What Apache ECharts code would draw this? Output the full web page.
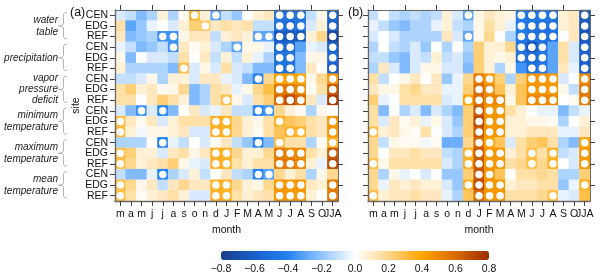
<!DOCTYPE html>
<html><head><meta charset="utf-8">
<script src="https://cdn.jsdelivr.net/npm/echarts@6/dist/echarts.min.js"></script>
<style>html,body{margin:0;padding:0;background:#fff}#c{width:600px;height:279px}</style>
</head><body><div id="c"></div><script>
const months = ['m','a','m','j','j','a','s','o','n','d','J','F','M','A','M','J','J','A','S','O','JJA'];
const sites = ['CEN','EDG','REF'];
const groupLabels = [['water','table'],['precipitation'],['vapor','pressure','deficit'],['minimum','temperature'],['maximum','temperature'],['mean','temperature']];

// panel (a) correlations, rows CEN, EDG, REF
const aWaterTable = [
 [-0.07,-0.11,-0.23,-0.15,0.07,-0.15,0.02,0.35,0.07,-0.3,-0.11,-0.19,0,0.07,0.11,-0.5,-0.5,-0.5,-0.11,0.04,-0.6],
 [0.15,-0.3,-0.19,-0.04,0,-0.07,0.07,0.23,0.25,0.11,0.15,0.11,0.15,-0.11,-0.11,-0.5,-0.55,-0.5,-0.07,0.07,-0.6],
 [0.11,-0.23,-0.19,-0.15,-0.35,-0.35,0.04,0.11,0.11,-0.11,0.07,0.11,0.07,-0.3,-0.3,-0.65,-0.65,-0.65,0.07,0.19,-0.75]];
const aPrecip = [
 [-0.04,-0.11,-0.23,-0.19,-0.11,-0.35,0.11,0.02,0.07,-0.07,-0.15,-0.3,0.04,0.04,-0.04,-0.55,-0.55,-0.3,-0.04,-0.07,-0.6],
 [0.04,-0.23,0,-0.07,-0.07,-0.11,0.15,0,0.11,-0.11,0.07,-0.11,0.07,-0.04,-0.15,-0.5,-0.5,-0.23,0.04,0.04,-0.55],
 [0.07,-0.15,-0.15,-0.15,-0.15,-0.23,0.3,-0.07,0.04,-0.07,0.15,-0.07,-0.11,-0.23,-0.23,-0.5,-0.5,-0.23,0.11,0,-0.6]];
const aVPD = [
 [-0.11,-0.11,-0.07,0.04,-0.15,0.07,0.07,-0.07,0.11,0.11,-0.04,-0.07,-0.23,-0.4,0.19,0.4,0.4,0.4,0.04,0.19,0.45],
 [0.15,0.23,0.07,0.11,0.02,0.04,0.19,-0.23,-0.15,0.15,0.11,-0.04,0.04,0.19,0.3,0.55,0.55,0.5,0.02,0.15,0.65],
 [0.15,0.15,0,0.11,0.23,0.15,0.07,-0.23,-0.15,0.15,0.3,0.04,-0.07,0.15,0.23,0.6,0.7,0.6,0.11,-0.07,0.75]];
const aTmin = [
 [-0.07,-0.23,-0.35,-0.07,-0.4,-0.23,0,0.11,-0.07,-0.04,0.11,-0.11,-0.11,-0.4,-0.35,0.19,0.07,0.02,-0.15,0.04,0],
 [0.3,0.11,0.02,0.11,-0.07,0.07,0.15,0.15,0.15,0.35,0.35,0.19,0.07,0.04,0.15,0.35,0.27,0.23,0.15,0.11,0.45],
 [0.3,0.07,-0.02,0.04,0.04,0.07,0.11,-0.07,-0.07,0.35,0.35,0.19,0.07,0.02,0.15,0.27,0.35,0.35,0.15,0.11,0.45]];
const aTmax = [
 [-0.15,-0.15,-0.15,0,-0.4,-0.04,-0.11,0,-0.07,0.02,0.11,-0.11,-0.19,-0.4,-0.23,0.3,0.15,0.15,-0.15,0.02,0.35],
 [0.3,0.23,0.07,0.07,-0.07,0.11,0.15,0.04,0.11,0.35,0.35,0.19,0.07,0.07,0.19,0.55,0.5,0.5,0.15,0.07,0.65],
 [0.3,0.19,0.07,0.11,0.15,0.23,0.04,-0.04,-0.07,0.35,0.35,0.15,0.07,0.15,0.15,0.55,0.55,0.5,0.07,-0.04,0.7]];
const aTmean = [
 [-0.11,-0.23,-0.23,-0.04,-0.4,-0.15,-0.07,0.07,-0.11,0,0.11,-0.11,-0.15,-0.4,-0.3,0.19,0.07,0.15,-0.15,0.04,0.19],
 [0.3,0.19,0.04,0.11,-0.11,0.11,0.19,0.11,0.11,0.35,0.35,0.19,0.07,0.04,0.19,0.45,0.45,0.45,0.11,0.07,0.55],
 [0.3,0.15,0.02,0.07,0.11,0.15,0.07,-0.07,-0.07,0.35,0.35,0.15,0.07,0.11,0.15,0.45,0.45,0.45,0.07,0,0.55]];

// panel (b)
const bWaterTable = [
 [-0.11,0,-0.11,-0.15,-0.11,-0.15,-0.11,0.07,-0.07,-0.3,0.04,0.11,0.07,0.04,-0.45,-0.5,-0.45,-0.5,0.07,0.11,-0.65],
 [-0.04,-0.11,-0.19,-0.23,-0.15,-0.15,-0.04,0.07,-0.11,-0.15,0.04,0.15,0.07,-0.04,-0.45,-0.5,-0.5,-0.5,0.07,0.11,-0.65],
 [-0.07,0,-0.07,-0.15,-0.15,-0.15,-0.15,0.11,-0.07,-0.3,0.04,0.19,0,-0.15,-0.45,-0.5,-0.5,-0.5,0,0.11,-0.65]];
const bPrecip = [
 [-0.15,0,-0.11,-0.15,-0.07,-0.19,0,-0.15,0,-0.15,0.23,0.07,0.07,0.19,-0.5,-0.65,-0.5,-0.3,0.15,-0.07,-0.6],
 [-0.11,-0.11,-0.19,-0.23,-0.07,-0.11,0.07,-0.11,-0.07,-0.19,0.23,0.07,0.04,0.07,-0.5,-0.55,-0.5,-0.3,0.15,-0.07,-0.6],
 [-0.15,0.11,-0.07,-0.23,-0.07,0.04,0.04,-0.07,-0.07,-0.23,0.23,0.07,-0.15,0.04,-0.35,-0.5,-0.45,-0.3,0.11,-0.04,-0.6]];
const bVPD = [
 [0.15,-0.11,0,0.04,0.11,0,0.11,-0.19,-0.04,0.19,0.55,0.45,0.23,-0.15,0.23,0.45,0.45,0.45,-0.07,0,0.5],
 [0.11,0.04,0.04,0.15,0.19,0.11,0.11,-0.04,-0.04,0.23,0.6,0.5,0.27,0.07,0.27,0.45,0.45,0.45,0.04,-0.11,0.55],
 [0.23,-0.04,0,0.15,0.15,0.15,0.15,-0.07,-0.04,0.4,0.6,0.5,0.5,0.04,0.27,0.5,0.5,0.5,0,0.02,0.55]];
const bTmin = [
 [0.15,-0.23,0,-0.15,-0.07,-0.23,-0.07,-0.15,-0.23,0.23,0.65,0.45,0.45,0.15,0.07,0,-0.04,-0.04,-0.23,-0.11,-0.04],
 [0.15,-0.07,0.11,0.02,0.07,-0.04,0.04,-0.07,-0.19,0.23,0.7,0.45,0.45,0.07,0.07,0.04,0.04,0.02,-0.15,0,0.07],
 [0.3,0.07,0.11,0.04,0.02,0.15,0,-0.07,-0.15,0.23,0.65,0.45,0.45,0.07,0.07,0.11,0.11,0.11,-0.04,-0.04,0.11]];
const bTmax = [
 [0.19,-0.11,0.04,0.02,0.02,-0.02,0.02,-0.27,-0.27,0.19,0.6,0.4,0.27,-0.07,0.15,0.23,0.27,0.15,-0.15,-0.23,0.4],
 [0.19,0,0.11,0.11,0.15,0.11,0.11,-0.11,-0.15,0.35,0.65,0.45,0.45,0.07,0.15,0.3,0.15,0.35,-0.11,-0.07,0.45],
 [0.3,0.04,0.15,0.15,0.15,0.15,0.15,-0.07,-0.15,0.35,0.65,0.45,0.45,0.15,0.19,0.3,0.19,0.35,0,-0.07,0.45]];
const bTmean = [
 [0.19,-0.15,0.04,-0.04,0,-0.07,0,-0.19,-0.19,0.23,0.65,0.45,0.27,0,0.15,0.15,0.19,0.15,-0.15,-0.15,0.23],
 [0.19,-0.04,0.11,0.07,0.11,0.07,0.07,-0.07,-0.19,0.35,0.7,0.45,0.45,0.07,0.11,0.11,0.15,0.15,-0.19,-0.04,0.35],
 [0.3,0.07,0.11,0.11,0.15,0.11,0.11,-0.04,-0.15,0.27,0.6,0.45,0.45,0.15,0.15,0.15,0.19,0.3,-0.04,-0.07,0.3]];

// significant months (column indices) per row
const aSigWaterTable = [[7,9,15,16,17,20],[8,15,16,17,20],[4,5,13,14,15,16,17,20]];
const aSigPrecip = [[5,11,15,16,20],[15,16,20],[6,15,16,20]];
const aSigVPD = [[13,15,16,17,20],[15,16,17,20],[10,15,16,17,20]];
const aSigTmin = [[2,4,13,14],[0,9,10,15,20],[0,9,10,16,17,20]];
const aSigTmax = [[4,13,15,20],[0,9,10,15,16,17,20],[0,9,10,15,16,17,20]];
const aSigTmean = [[4,13,14],[0,9,10,15,16,17,20],[0,9,10,15,16,17,20]];
const bSigWaterTable = [[9,14,15,16,17,20],[14,15,16,17,20],[9,14,15,16,17,20]];
const bSigPrecip = [[14,15,16,20],[14,15,16,20],[15,16,20]];
const bSigVPD = [[10,11,15,16,17,20],[10,11,15,16,17,20],[9,10,11,12,15,16,17,20]];
const bSigTmin = [[10,11,12],[10,11,12],[0,10,11,12]];
const bSigTmax = [[10,11,20],[9,10,11,12,15,17,20],[0,9,10,11,12,15,17,20]];
const bSigTmean = [[10,11],[9,10,11,12,20],[0,10,11,12,17]];

const aRows = [].concat(aWaterTable,aPrecip,aVPD,aTmin,aTmax,aTmean);
const bRows = [].concat(bWaterTable,bPrecip,bVPD,bTmin,bTmax,bTmean);
const aSig = [].concat(aSigWaterTable,aSigPrecip,aSigVPD,aSigTmin,aSigTmax,aSigTmean);
const bSig = [].concat(bSigWaterTable,bSigPrecip,bSigVPD,bSigTmin,bSigTmax,bSigTmean);
const yCats = [];
groupLabels.forEach(()=>sites.forEach(s=>yCats.push(s)));

function heat(rows){const d=[];rows.forEach((r,i)=>r.forEach((v,j)=>d.push([j,i,v])));return d;}
function sig(s){const d=[];s.forEach((r,i)=>r.forEach(j=>d.push([j,i])));return d;}

const FONT = 'Liberation Sans, Arial, sans-serif';
const lineC = '#6a6a6a', tickC = '#444';
function xBottom(grid, name){return {type:'category',gridIndex:grid,data:months,position:'bottom',z:5,
  axisLine:{show:true,lineStyle:{color:lineC,width:1.3}},axisTick:{show:true,alignWithLabel:true,length:5,lineStyle:{color:tickC}},
  axisLabel:{interval:0,margin:8,color:'#111',fontSize:10.5,fontFamily:FONT},
  name:name,nameLocation:'middle',nameGap:24,nameTextStyle:{color:'#111',fontSize:10.5,fontFamily:FONT},splitLine:{show:false}};}
function xTop(grid){return {type:'category',gridIndex:grid,data:months,position:'top',z:5,
  axisLine:{show:true,lineStyle:{color:lineC,width:1}},axisTick:{show:true,alignWithLabel:true,length:5,lineStyle:{color:tickC}},axisLabel:{show:false}};}
function yLeft(grid, labels){return {type:'category',gridIndex:grid,data:yCats,inverse:true,position:'left',z:5,
  axisLine:{show:true,lineStyle:{color:lineC,width:1.3}},axisTick:{show:true,alignWithLabel:true,length:5,lineStyle:{color:tickC}},
  axisLabel:{show:labels,interval:0,margin:7,color:'#111',fontSize:10.5,fontFamily:FONT},
  name:labels?'site':'',nameLocation:'middle',nameGap:29,nameRotate:90,nameTextStyle:{color:'#111',fontSize:10.5,fontFamily:FONT}};}
function yRight(grid){return {type:'category',gridIndex:grid,data:yCats,inverse:true,position:'right',z:5,
  axisLine:{show:true,lineStyle:{color:lineC,width:1}},axisTick:{show:true,alignWithLabel:true,length:5,lineStyle:{color:tickC}},axisLabel:{show:false}};}

const chart = echarts.init(document.getElementById('c'),null,{renderer:'canvas'});
const option = {
  animation:false,
  textStyle:{fontFamily:FONT},
  title:[{text:'(a)',left:70,top:6,padding:0,textStyle:{fontSize:12.5,fontWeight:'normal',color:'#111',fontFamily:FONT}},
         {text:'(b)',left:348,top:6,padding:0,textStyle:{fontSize:12.5,fontWeight:'normal',color:'#111',fontFamily:FONT}}],
  grid:[{left:115,top:10,width:223,height:191},{left:368,top:10,width:222,height:191},{left:221,top:251,width:268,height:9}],
  xAxis:[xBottom(0,'month'),xTop(0),xBottom(1,'month'),xTop(1),
    {type:'value',gridIndex:2,min:-0.8,max:0.8,interval:0.2,axisLine:{show:false},axisTick:{show:false},splitLine:{show:false},
     axisLabel:{margin:4,color:'#111',fontSize:10.5,fontFamily:FONT,showMinLabel:true,showMaxLabel:true,
       formatter:v=>(Math.abs(v)<1e-9?'0.0':v.toFixed(1).replace('-','\u2212'))}}],
  yAxis:[yLeft(0,true),yRight(0),yLeft(1,false),yRight(1),{type:'value',gridIndex:2,show:false}],
  visualMap:{type:'continuous',min:-0.8,max:0.8,orient:'horizontal',left:221,top:251,itemHeight:268,itemWidth:9,
    calculable:false,padding:0,seriesIndex:[0,2],hoverLink:false,
    inRange:{color:['#1b3d8a','#1a5fcb','#2383f0','#92c4ff','#ffffff','#ffd68a','#ffa500','#d96a00','#9b2c00']}},
  series:[
    {type:'heatmap',xAxisIndex:0,yAxisIndex:0,data:heat(aRows),itemStyle:{borderWidth:0},emphasis:{disabled:true}},
    {type:'scatter',xAxisIndex:0,yAxisIndex:0,data:sig(aSig),symbol:'circle',symbolSize:7.5,itemStyle:{color:'#fff',opacity:1},z:4,emphasis:{disabled:true}},
    {type:'heatmap',xAxisIndex:2,yAxisIndex:2,data:heat(bRows),itemStyle:{borderWidth:0},emphasis:{disabled:true}},
    {type:'scatter',xAxisIndex:2,yAxisIndex:2,data:sig(bSig),symbol:'circle',symbolSize:7.5,itemStyle:{color:'#fff',opacity:1},z:4,emphasis:{disabled:true}}
  ]
};
chart.setOption(option);

// group labels and braces positioned from the y axis scale
const g = [];
groupLabels.forEach((lines,k)=>{
  const y0 = chart.convertToPixel({gridIndex:0},[0,3*k])[1];
  const y2 = chart.convertToPixel({gridIndex:0},[0,3*k+2])[1];
  const h = (y2-y0)/2;
  const top = y0 - h/2 + 2.5, bot = y2 + h/2 - 3, mid = (y0+y2)/2;
  const x0 = 63.5, x1 = 67, xt = 58.5;
  g.push({type:'polyline',shape:{points:[[x1,top],[x0+1,top+0.4],[x0,top+2],[x0,mid-2],[x0-1,mid-0.6],[xt,mid],[x0-1,mid+0.6],[x0,mid+2],[x0,bot-2],[x0+1,bot-0.4],[x1,bot]]},
    style:{fill:null,stroke:'#b5b5b5',lineWidth:1}});
  g.push({type:'text',x:58,y:mid,style:{text:lines.join('\n'),align:'right',verticalAlign:'middle',
    fontSize:10,fontStyle:'italic',fontFamily:FONT,lineHeight:lines.length===3?11:11.8,fill:'#222'}});
});
chart.setOption({graphic:g});
</script></body></html>
